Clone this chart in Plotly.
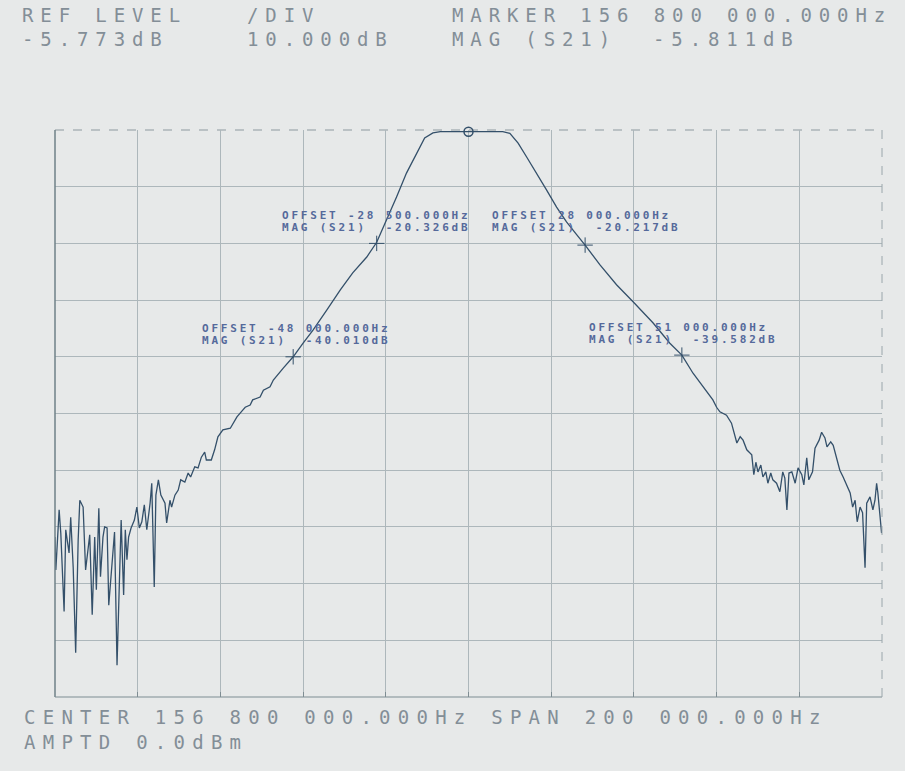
import plotly.graph_objects as go

# ---------------- data ----------------
CENTER_MHZ = 156.8
SPAN_KHZ = 200.0

offset_khz = [
    -100.0, -99.8, -99.0, -98.6, -97.8, -97.4, -96.6, -96.2, -95.6, -95.0,
    -94.4, -94.0, -93.2, -92.6, -91.6, -91.0, -90.4, -90.0, -89.4, -89.0,
    -88.4, -88.0, -87.4, -87.0, -86.2, -85.6, -85.0, -84.4, -84.0, -83.4,
    -83.0, -82.6, -82.2, -81.6, -80.8, -80.2, -79.6, -79.0, -78.4, -77.8,
    -77.0, -76.6, -76.0, -75.6, -75.0, -74.4, -73.4, -73.0, -72.2, -71.8,
    -71.0, -70.2, -69.6, -68.6, -67.8, -67.2, -66.2, -65.4, -64.6, -63.8,
    -63.4, -62.2, -61.4, -60.6, -59.4, -57.6, -56.0, -54.6, -54.0, -52.8,
    -52.2, -50.4, -49.6, -48.0, -47.2, -44.8, -42.4, -40.0, -37.6, -34.2,
    -31.0, -28.0, -24.6, -22.2, -19.8, -17.4, -15.0, -12.6, -10.6, -8.6,
    -6.8, -3.0, 0.0, 4.0, 8.3,
    10.0, 12.0, 14.1, 16.5, 18.9, 21.3, 23.7, 26.2, 28.2, 31.8,
    35.8, 39.8, 44.6, 48.7, 51.6, 54.3, 56.7, 58.4, 59.1, 60.0,
    60.8, 62.4, 63.6, 64.9, 65.7, 66.4, 67.3, 68.5, 69.0, 69.5,
    70.0, 70.7, 71.2, 71.9, 72.4, 73.1, 73.6, 74.5, 75.3, 76.0,
    76.5, 77.0, 77.5, 78.2, 79.0, 79.7, 80.6, 81.1, 81.8, 82.3,
    83.2, 83.8, 84.8, 85.4, 86.2, 86.7, 87.6, 88.2, 89.0, 89.8,
    90.6, 91.5, 92.3, 92.9, 93.5, 94.0, 94.7, 95.3, 95.9, 96.3,
    97.1, 97.8, 98.3, 98.7, 99.0, 99.9,
]

mag_s21_db = [
    -71.8, -77.6, -67.0, -71.1, -84.9, -70.5, -74.6, -68.3, -77.1, -92.2,
    -72.3, -65.3, -66.5, -77.6, -71.4, -85.5, -71.8, -81.1, -66.7, -78.8,
    -71.8, -70.0, -70.2, -83.8, -76.4, -70.9, -94.4, -77.6, -68.8, -82.0,
    -70.5, -75.8, -71.8, -70.2, -68.8, -66.5, -70.2, -69.1, -66.1, -70.5,
    -65.8, -62.3, -80.6, -64.4, -61.7, -64.4, -65.8, -69.3, -65.3, -66.5,
    -64.4, -63.5, -61.7, -62.1, -60.5, -61.2, -59.4, -59.6, -57.7, -56.8,
    -58.2, -58.2, -56.4, -54.1, -52.9, -52.6, -50.6, -49.4, -48.9, -48.5,
    -47.6, -47.1, -45.9, -45.3, -44.1, -42.0, -40.0, -37.6, -35.3, -31.7,
    -28.2, -25.2, -22.4, -19.8, -15.9, -11.8, -7.6, -4.1, -1.4, -0.5,
    -0.3, -0.3, -0.3, -0.3, -0.3,
    -0.6, -2.3, -4.8, -7.6, -10.6, -13.6, -16.2, -18.5, -20.3, -23.8,
    -27.3, -30.3, -34.0, -37.6, -39.7, -42.9, -45.3, -47.1, -47.6, -48.9,
    -49.7, -50.3, -51.7, -55.2, -54.1, -54.7, -56.4, -57.3, -60.8, -58.6,
    -60.3, -59.1, -61.2, -60.3, -62.3, -60.5, -61.7, -62.3, -63.8, -60.3,
    -61.4, -67.0, -60.5, -60.3, -62.3, -59.6, -60.8, -62.6, -57.8, -61.7,
    -60.3, -56.1, -54.7, -53.3, -54.3, -55.9, -55.0, -55.6, -57.7, -60.0,
    -61.2, -62.6, -64.0, -66.5, -65.3, -69.1, -66.5, -67.5, -77.2, -65.8,
    -64.7, -67.0, -65.3, -62.3, -64.0, -71.1,
]

# delta markers (as drawn on the plot)
marker_offset_khz = [-22.2, 28.2, -42.4, 51.6]
marker_db = [-20.0, -20.3, -40.0, -39.7]
marker_offset_text = ["OFFSET -28 500.000Hz", "OFFSET 28 000.000Hz",
                      "OFFSET -48 000.000Hz", "OFFSET 51 000.000Hz"]
marker_mag_text = ["MAG (S21)  -20.326dB", "MAG (S21)  -20.217dB",
                   "MAG (S21)  -40.010dB", "MAG (S21)  -39.582dB"]
ref_marker_khz = [0.0]
ref_marker_db = [-0.3]

header_left = [("REF LEVEL", "-5.773dB"), ("/DIV", "10.000dB")]
header_marker = ("MARKER 156 800 000.000Hz", "MAG (S21)", "-5.811dB")
footer_lines = ["CENTER 156 800 000.000Hz SPAN 200 000.000Hz", "AMPTD 0.0dBm"]

# ---------------- layout helpers (page pixel -> paper) ----------------
W, H = 905, 771
L, R, T, B = 55, 23, 130, 74
PW, PH = W - L - R, H - T - B


def px(x):
    return (x - L) / PW


def py(y):
    return (H - B - y) / PH


freq_mhz = [CENTER_MHZ + o / 1000.0 for o in offset_khz]
mk_freq = [CENTER_MHZ + o / 1000.0 for o in marker_offset_khz]
ref_freq = [CENTER_MHZ + o / 1000.0 for o in ref_marker_khz]
x0 = CENTER_MHZ - SPAN_KHZ / 2000.0
x1 = CENTER_MHZ + SPAN_KHZ / 2000.0

TEXT_C = "#838e97"
BLUE_T = "#55699b"
GRID_C = "#adb7bb"
TRACE_C = "#34506a"

fig = go.Figure()
fig.add_trace(go.Scatter(x=freq_mhz, y=mag_s21_db, mode="lines",
                         line=dict(color=TRACE_C, width=1.3),
                         showlegend=False, hoverinfo="skip"))
fig.add_trace(go.Scatter(x=mk_freq, y=marker_db, mode="markers",
                         marker=dict(symbol="cross-thin-open", size=11,
                                     color=TRACE_C,
                                     line=dict(color=TRACE_C, width=1)),
                         showlegend=False, hoverinfo="skip"))
fig.add_trace(go.Scatter(x=ref_freq, y=ref_marker_db, mode="markers",
                         marker=dict(symbol="circle-open", size=9,
                                     color=TRACE_C,
                                     line=dict(color=TRACE_C, width=1.5)),
                         showlegend=False, hoverinfo="skip", cliponaxis=False))


def spaced(txt, ls):
    return '<span style="letter-spacing:%.2fpx">%s</span>' % (ls, txt)


annotations = []
HDR_FONT = dict(family="DejaVu Sans Mono", size=19, color=TEXT_C)


def hdr(txt, x, y, font=HDR_FONT, ls=6.9):
    annotations.append(dict(text=spaced(txt, ls), x=px(x), y=py(y),
                            xref="paper", yref="paper", xanchor="left",
                            yanchor="middle", showarrow=False, font=font))


hdr(header_left[0][0], 20, 15)
hdr(header_left[0][1], 20, 39)
hdr(header_left[1][0], 245, 15)
hdr(header_left[1][1], 245, 39)
hdr(header_marker[0], 450, 15)
hdr(header_marker[1], 450, 39)
hdr(header_marker[2], 651, 39)
hdr(footer_lines[0], 22, 717, ls=7.25)
hdr(footer_lines[1], 22, 742, ls=7.25)

IN_FONT = dict(family="DejaVu Sans Mono", size=11, color=BLUE_T, weight="bold")
inner_pos = [(280, 215), (490, 215), (200, 328), (587, 327)]
for (tx, ty), t1, t2 in zip(inner_pos, marker_offset_text, marker_mag_text):
    hdr(t1, tx, ty, IN_FONT, 2.8)
    hdr(t2, tx, ty + 12, IN_FONT, 2.8)

shapes = [
    dict(type="line", xref="paper", yref="paper", x0=0, x1=0, y0=0, y1=1,
         line=dict(color="#6f8087", width=1.5)),
    dict(type="line", xref="paper", yref="paper", x0=0, x1=1, y0=0, y1=0,
         line=dict(color="#7f8d93", width=1.2)),
    dict(type="line", xref="paper", yref="paper", x0=0, x1=1, y0=1, y1=1,
         line=dict(color="#8e9aa0", width=1.2, dash="dash"), layer="below"),
    dict(type="line", xref="paper", yref="paper", x0=1, x1=1, y0=0, y1=1,
         line=dict(color="#9aa6ab", width=1, dash="dash")),
]

fig.update_layout(
    width=W, height=H,
    margin=dict(l=L, r=R, t=T, b=B),
    paper_bgcolor="#e7e9e9",
    plot_bgcolor="#e7e9e9",
    annotations=annotations,
    shapes=shapes,
    xaxis=dict(range=[x0, x1], dtick=0.02, tick0=CENTER_MHZ,
               showgrid=True, gridcolor=GRID_C, gridwidth=1,
               showticklabels=False, zeroline=False, showline=False,
               ticks="inside", ticklen=5, tickcolor="#7f8d93"),
    yaxis=dict(range=[-100, 0], dtick=10, tick0=0,
               showgrid=True, gridcolor=GRID_C, gridwidth=1,
               showticklabels=False, zeroline=False, showline=False),
)

fig.write_html("out.html",
               config={"displayModeBar": False, "staticPlot": True},
               post_script="document.body.style.margin='0px';"
                           "document.body.style.overflow='hidden';")
